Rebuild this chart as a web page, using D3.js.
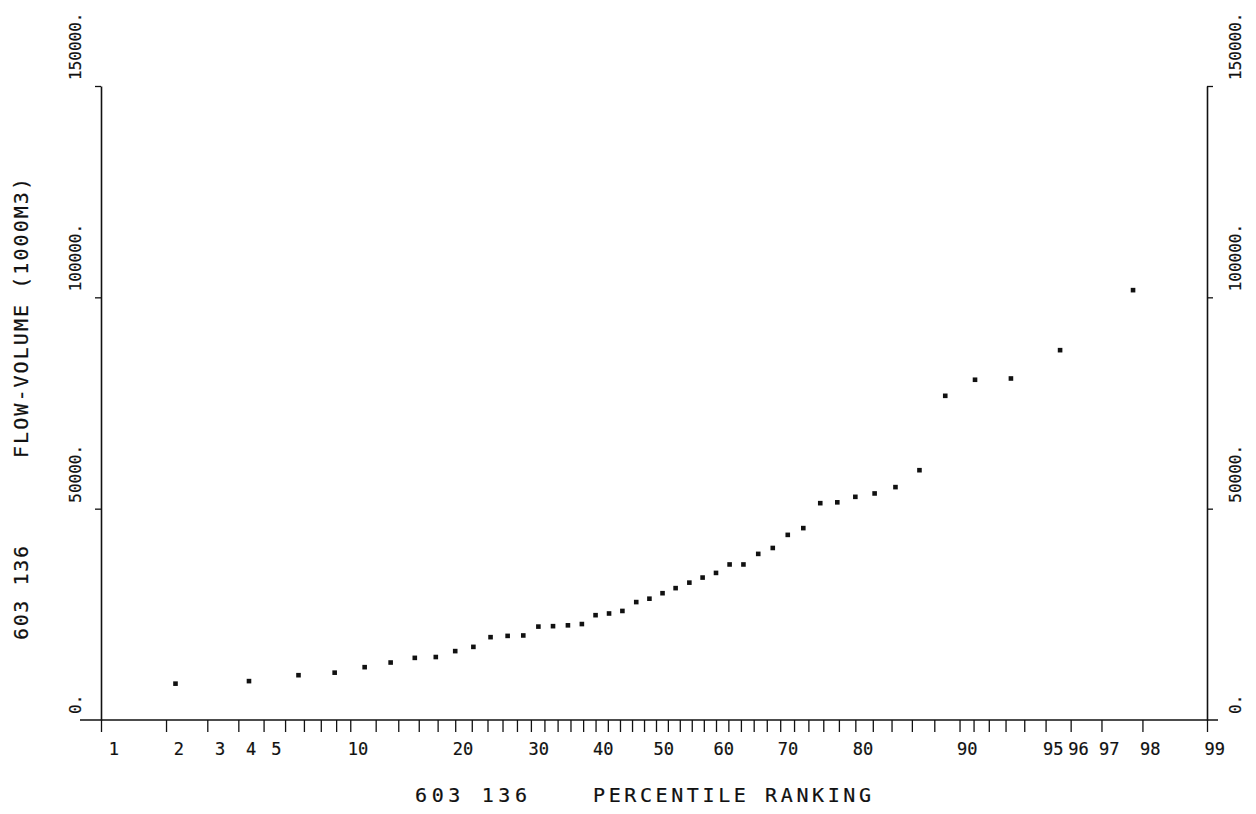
<!DOCTYPE html>
<html>
<head>
<meta charset="utf-8">
<script src="https://cdn.jsdelivr.net/npm/d3@7"></script>
<style>
  html, body { margin: 0; padding: 0; background: #fff; }
  svg { display: block; }
  text { font-family: "DejaVu Sans Mono", "Liberation Mono", monospace; fill: #111;
         stroke: #111; stroke-width: 0.2px; }
</style>
</head>
<body>
<svg id="chart" width="1256" height="814"></svg>
<script>
// Percentile ranking (plotting position) of each ranked annual flow volume
const percentiles = [2.2, 4.4, 6.7, 8.9, 11.1, 13.3, 15.6, 17.8, 20.0, 22.2, 24.4,
  26.7, 28.9, 31.1, 33.3, 35.6, 37.8, 40.0, 42.2, 44.4, 46.7, 48.9, 51.1, 53.3,
  55.6, 57.8, 60.0, 62.2, 64.4, 66.7, 68.9, 71.1, 73.3, 75.6, 77.8, 80.0, 82.2,
  84.4, 86.7, 88.9, 91.1, 93.3, 95.6, 97.8];

// Flow volume, 1000 m3
const flows = [8600, 9200, 10600, 11200, 12500, 13600, 14700, 14900, 16300, 17300,
  19600, 19900, 20000, 22100, 22200, 22400, 22700, 24800, 25200, 25800, 27900,
  28700, 30000, 31200, 32500, 33700, 34800, 36800, 36800, 39300, 40700, 43800,
  45400, 51300, 51500, 52800, 53600, 55100, 59100, 76700, 80500, 80800, 87500,
  101700];

// Probability-paper tick marks and the subset that carries labels
const xTicks = [1, 2, 3, 4, 5, 6, 7, 8, 9, 10, 12, 14, 16, 18, 20, 22, 24, 26, 28,
  30, 32, 34, 36, 38, 40, 42, 44, 46, 48, 50, 52, 54, 56, 58, 60, 62, 64, 66, 68,
  70, 72, 74, 76, 78, 80, 82, 84, 86, 88, 90, 91, 92, 93, 94, 95, 96, 97, 98, 99];
const xLabels = [1, 2, 3, 4, 5, 10, 20, 30, 40, 50, 60, 70, 80, 90, 95, 96, 97, 98, 99];

const yTicks = [0, 50000, 100000, 150000];
const yLabels = ["0.", "50000.", "100000.", "150000."];

const stationId = "603 136";
const xTitle = "PERCENTILE RANKING";
const yTitle = "FLOW-VOLUME (1000M3)";

// Inverse standard normal CDF (Acklam's rational approximation)
function probit(p) {
  const a = [-3.969683028665376e+01, 2.209460984245205e+02, -2.759285104469687e+02,
    1.383577518672690e+02, -3.066479806614716e+01, 2.506628277459239e+00];
  const b = [-5.447609879822406e+01, 1.615858368580409e+02, -1.556989798598866e+02,
    6.680131188771972e+01, -1.328068155288572e+01];
  const c = [-7.784894002430293e-03, -3.223964580411365e-01, -2.400758277161838e+00,
    -2.549732539343734e+00, 4.374664141464968e+00, 2.938163982698783e+00];
  const d = [7.784695709041462e-03, 3.224671290700398e-01, 2.445134137142996e+00,
    3.754408661907416e+00];
  const pl = 0.02425, ph = 1 - pl;
  let q, r;
  if (p < pl) {
    q = Math.sqrt(-2 * Math.log(p));
    return (((((c[0]*q + c[1])*q + c[2])*q + c[3])*q + c[4])*q + c[5]) /
           ((((d[0]*q + d[1])*q + d[2])*q + d[3])*q + 1);
  }
  if (p <= ph) {
    q = p - 0.5; r = q * q;
    return (((((a[0]*r + a[1])*r + a[2])*r + a[3])*r + a[4])*r + a[5]) * q /
           (((((b[0]*r + b[1])*r + b[2])*r + b[3])*r + b[4])*r + 1);
  }
  q = Math.sqrt(-2 * Math.log(1 - p));
  return -(((((c[0]*q + c[1])*q + c[2])*q + c[3])*q + c[4])*q + c[5]) /
          ((((d[0]*q + d[1])*q + d[2])*q + d[3])*q + 1);
}

const svg = d3.select("#chart");

const frame = { left: 101, right: 1207, top: 86, bottom: 720 };

// Normal-probability x scale: linear in z, percent converted through probit
const zScale = d3.scaleLinear()
  .domain([probit(0.01), 0, probit(0.99)])
  .range([frame.left, 656, frame.right]);
const x = pct => zScale(probit(pct / 100));

const y = d3.scaleLinear().domain([0, 150000]).range([frame.bottom, frame.top]);

const ink = "#111";

// Horizontal base line, running slightly past both frame sides
svg.append("line")
  .attr("x1", frame.left - 21).attr("x2", frame.right + 11)
  .attr("y1", frame.bottom).attr("y2", frame.bottom)
  .attr("stroke", ink).attr("stroke-width", 1.6);

// X ticks below the base line
const xAxis = d3.axisBottom(zScale)
  .tickValues(xTicks.map(p => probit(p / 100)))
  .tickSize(12)
  .tickSizeOuter(0)
  .tickFormat("");
const gx = svg.append("g")
  .attr("transform", `translate(0,${frame.bottom})`)
  .call(xAxis);
gx.select(".domain").remove();
gx.selectAll(".tick line").attr("stroke", ink).attr("stroke-width", 1.3);

// X tick labels, set just right of each tick
svg.append("g").selectAll("text")
  .data(xLabels)
  .join("text")
  .attr("x", d => x(d) + 18)
  .attr("y", 755)
  .attr("text-anchor", "end")
  .attr("font-size", 17)
  .text(d => d);

// Left and right vertical axes
const yAxisL = d3.axisLeft(y).tickValues(yTicks).tickSize(6).tickSizeOuter(0).tickFormat("");
const gyl = svg.append("g").attr("transform", `translate(${frame.left},0)`).call(yAxisL);
const yAxisR = d3.axisRight(y).tickValues(yTicks).tickSize(6).tickSizeOuter(0).tickFormat("");
const gyr = svg.append("g").attr("transform", `translate(${frame.right},0)`).call(yAxisR);
[gyl, gyr].forEach(g => {
  g.select(".domain").attr("stroke", ink).attr("stroke-width", 1.6);
  g.selectAll(".tick line").attr("stroke", ink).attr("stroke-width", 1.3);
  g.selectAll(".tick").filter(d => d === 0).remove();
});

// Rotated y tick labels on both sides
function yLabelGroup(cx) {
  svg.append("g").selectAll("text")
    .data(yTicks)
    .join("text")
    .attr("transform", d => `translate(${cx},${y(d) - 6}) rotate(-90)`)
    .attr("text-anchor", "start")
    .attr("dominant-baseline", "central")
    .attr("font-size", 16)
    .text((d, i) => yLabels[i]);
}
yLabelGroup(75);
yLabelGroup(1235);

// Data points: small filled squares
const s = 4.6;
svg.append("g").selectAll("rect")
  .data(percentiles.map((p, i) => ({ p, v: flows[i] })))
  .join("rect")
  .attr("x", d => x(d.p) - s / 2)
  .attr("y", d => y(d.v) - s / 2)
  .attr("width", s)
  .attr("height", s)
  .attr("fill", ink);

// Bottom title
svg.append("text")
  .attr("x", 415).attr("y", 802)
  .attr("font-size", 20)
  .attr("textLength", 112).attr("lengthAdjust", "spacing")
  .text(stationId);
svg.append("text")
  .attr("x", 593).attr("y", 802)
  .attr("font-size", 20)
  .attr("textLength", 278).attr("lengthAdjust", "spacing")
  .text(xTitle);

// Left vertical title
svg.append("text")
  .attr("transform", "translate(21,640) rotate(-90)")
  .attr("dominant-baseline", "central")
  .attr("font-size", 20)
  .attr("textLength", 94).attr("lengthAdjust", "spacing")
  .text(stationId);
svg.append("text")
  .attr("transform", "translate(21,458) rotate(-90)")
  .attr("dominant-baseline", "central")
  .attr("font-size", 20)
  .attr("textLength", 280).attr("lengthAdjust", "spacing")
  .text(yTitle);
</script>
</body>
</html>
